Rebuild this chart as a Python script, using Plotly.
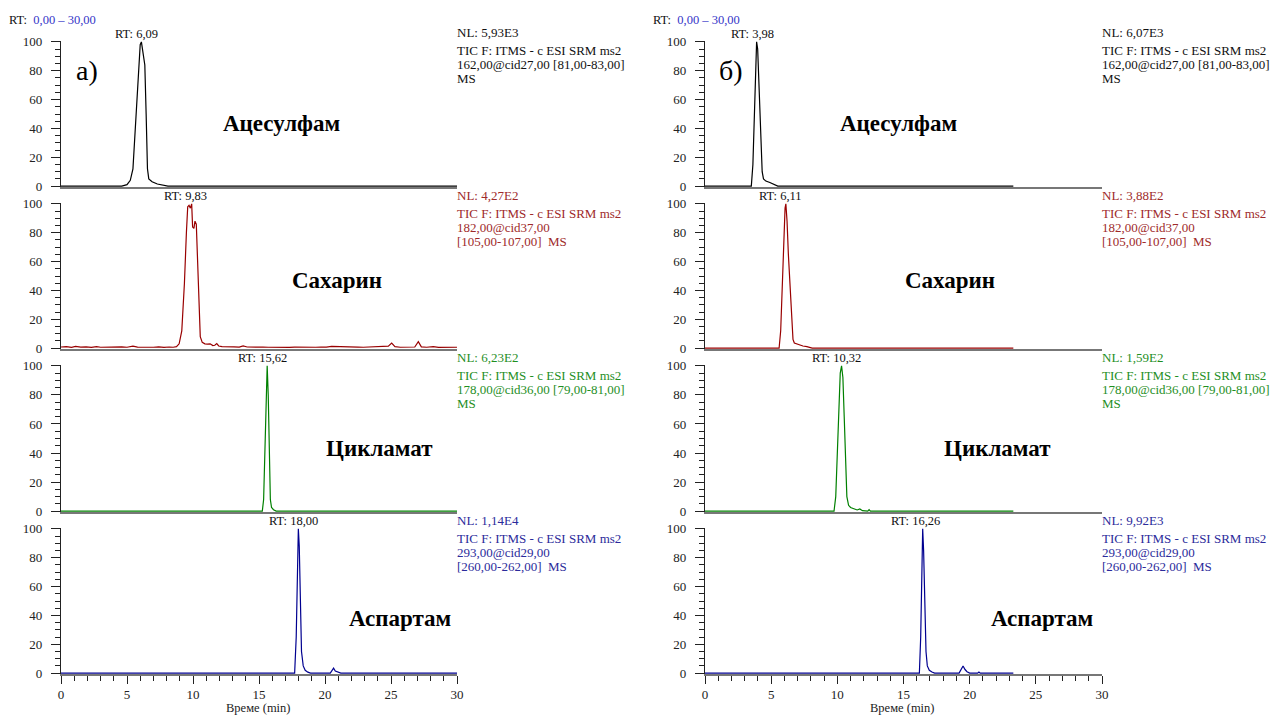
import plotly.graph_objects as go

W, H = 1271, 715
SERIF = "Liberation Serif"

# ---------------- data (time, min / relative abundance, %) ----------------
# Panel a)
t_ace_a = [0, 4.6, 5.0, 5.25, 5.45, 5.6, 5.75, 5.9, 6.0, 6.09, 6.2, 6.35, 6.45, 6.55, 6.65, 6.9, 7.3, 7.8, 8.1, 30]
y_ace_a = [0, 0, 1, 4, 12, 35, 62, 88, 98, 100, 94, 84, 50, 12, 5, 3, 1.5, 0.6, 0, 0]

t_sac_a = [0.0, 0.4, 0.8, 1.1, 1.5, 1.9, 2.3, 2.7, 3.0, 3.4,
           3.8, 4.2, 4.6, 5.0, 5.45, 5.8, 6.2, 6.6, 7.0, 7.4,
           7.8, 8.2, 8.5, 8.75, 8.95, 9.15, 9.35, 9.5, 9.6, 9.7,
           9.8, 9.9, 9.97, 10.07, 10.15, 10.25, 10.35, 10.45, 10.55, 10.7,
           10.9, 11.1, 11.3, 11.5, 11.65, 11.8, 11.95, 12.2, 12.5, 12.8,
           13.1, 13.5, 13.8, 14.1, 14.5, 14.9, 15.3, 15.7, 16.1, 16.5,
           16.9, 17.3, 17.7, 18.1, 18.5, 18.9, 19.3, 19.7, 20.1, 20.5,
           20.9, 21.3, 21.7, 22.1, 22.5, 22.9, 23.3, 23.7, 24.1, 24.5,
           24.8, 25.05, 25.3, 25.7, 26.1, 26.5, 26.8, 27.07, 27.3, 27.7,
           28.2, 28.6, 29.0, 29.5, 30.0]
y_sac_a = [0.8, 1.0, 0.6, 1.2, 0.7, 0.9, 0.5, 1.0, 0.6, 0.8,
           0.5, 0.7, 0.9, 0.6, 1.4, 0.7, 0.5, 0.8, 0.6, 0.9,
           0.5, 0.8, 0.6, 1.0, 3.0, 12, 45, 80, 98, 99,
           97, 100, 84, 83, 88, 86, 55, 22, 8, 4,
           3.0, 2.8, 3.0, 1.8, 2.0, 3.2, 1.5, 1.0, 0.8, 0.6,
           0.9, 0.7, 1.5, 0.8, 0.6, 0.5, 0.7, 0.6, 0.5, 0.8,
           0.6, 0.5, 0.7, 0.6, 0.5, 0.7, 0.6, 0.8, 0.7, 1.2,
           1.0, 0.8, 0.6, 0.9, 0.7, 0.6, 0.8, 0.6, 0.7, 1.0,
           1.4, 3.5, 1.0, 0.6, 0.5, 0.7, 0.8, 4.5, 0.9, 0.6,
           1.0, 0.5, 0.6, 0.5, 0.6]

t_cyc_a = [0, 15.25, 15.35, 15.45, 15.55, 15.62, 15.7, 15.78, 15.86, 15.95, 16.1, 16.3, 30]
y_cyc_a = [0, 0, 8, 45, 92, 100, 80, 35, 8, 2.5, 1, 0, 0]

t_asp_a = [0, 17.7, 17.82, 17.92, 17.98, 18.05, 18.13, 18.22, 18.35, 18.5, 18.7, 18.9,
           20.4, 20.55, 20.65, 20.78, 20.95, 21.2, 30]
y_asp_a = [0, 0, 25, 80, 100, 88, 45, 15, 5, 2, 0.7, 0,
           0, 2, 3.5, 1.5, 1, 0, 0]

# Panel б)
t_ace_b = [0, 3.5, 3.62, 3.72, 3.82, 3.9, 3.98, 4.08, 4.2, 4.32, 4.42, 4.6, 4.9, 5.2, 5.5, 23.3]
y_ace_b = [0, 0, 15, 50, 88, 100, 95, 70, 35, 10, 5, 3.5, 2.5, 1, 0, 0]

t_sac_b = [0, 5.6, 5.72, 5.85, 5.95, 6.05, 6.11, 6.2, 6.3, 6.42, 6.55, 6.65, 6.75, 6.9, 7.1, 7.4, 7.7, 8.1, 23.3]
y_sac_b = [0, 0, 12, 45, 80, 97, 100, 88, 65, 45, 20, 6, 3.5, 3, 2.2, 1.5, 1, 0, 0]

t_cyc_b = [0, 9.75, 9.88, 10.0, 10.12, 10.22, 10.32, 10.42, 10.52, 10.62, 10.72, 10.85, 11.0,
           11.3, 11.5, 11.7, 11.9, 12.3, 12.4, 12.5, 23.3]
y_cyc_b = [0, 0, 10, 40, 75, 95, 100, 92, 65, 30, 10, 4, 2.5,
           1.5, 0.8, 1.5, 0.3, 0, 1, 0, 0]

t_asp_b = [0, 16.2, 16.3, 16.38, 16.45, 16.52, 16.6, 16.7, 16.8, 16.95, 17.15, 17.35,
           19.2, 19.35, 19.5, 19.65, 19.8, 20.0, 20.6, 20.7, 20.8, 23.3]
y_asp_b = [0, 0, 25, 80, 100, 85, 45, 15, 5, 2, 0.8, 0,
           0, 2.5, 5, 2.5, 1, 0, 0, 0.8, 0, 0]

compounds = ["Ацесулфам", "Сахарин", "Цикламат", "Аспартам"]
rt_a = [6.09, 9.83, 15.62, 18.00]
rt_b = [3.98, 6.11, 10.32, 16.26]
rt_a_labels = ["6,09", "9,83", "15,62", "18,00"]
rt_b_labels = ["3,98", "6,11", "10,32", "16,26"]
nl_a = ["5,93E3", "4,27E2", "6,23E2", "1,14E4"]
nl_b = ["6,07E3", "3,88E2", "1,59E2", "9,92E3"]
filter_lines = [
    ["TIC F: ITMS - c ESI SRM ms2", "162,00@cid27,00 [81,00-83,00]", "MS"],
    ["TIC F: ITMS - c ESI SRM ms2", "182,00@cid37,00", "[105,00-107,00]\u00a0 MS"],
    ["TIC F: ITMS - c ESI SRM ms2", "178,00@cid36,00 [79,00-81,00]", "MS"],
    ["TIC F: ITMS - c ESI SRM ms2", "293,00@cid29,00", "[260,00-262,00]\u00a0 MS"],
]
x_ticks = [0, 5, 10, 15, 20, 25, 30]
y_ticks = [0, 20, 40, 60, 80, 100]

for a, b in [(t_ace_a, y_ace_a), (t_sac_a, y_sac_a), (t_cyc_a, y_cyc_a), (t_asp_a, y_asp_a),
             (t_ace_b, y_ace_b), (t_sac_b, y_sac_b), (t_cyc_b, y_cyc_b), (t_asp_b, y_asp_b)]:
    assert len(a) == len(b)

series = [
    [(t_ace_a, y_ace_a), (t_sac_a, y_sac_a), (t_cyc_a, y_cyc_a), (t_asp_a, y_asp_a)],
    [(t_ace_b, y_ace_b), (t_sac_b, y_sac_b), (t_cyc_b, y_cyc_b), (t_asp_b, y_asp_b)],
]
rts = [rt_a, rt_b]
rt_labels = [rt_a_labels, rt_b_labels]
nls = [nl_a, nl_b]

# ---------------- styling / layout ----------------
line_colors = ["#000000", "#990000", "#008000", "#000090"]
text_colors = ["#111111", "#9e2a2a", "#1f8f1f", "#2b2b9b"]
rows_px = [(41, 187), (203, 349), (365, 512), (528, 674)]
cols_px = [(61, 457), (705, 1102)]
name_pos = [[(281, 124), (337, 280), (380, 448), (400, 618)],
            [(898, 123), (950, 280), (998, 448), (1042, 618)]]
panel_tags = ["а)", "б)"]
tag_pos = [(87, 70), (731, 70)]


def fx(p):
    return p / W


def fy(p):
    return 1 - p / H


fig = go.Figure()
layout = dict(width=W, height=H, margin=dict(l=0, r=0, t=0, b=0, autoexpand=False),
              paper_bgcolor="white", plot_bgcolor="white", showlegend=False)
annotations = []
axis_font = dict(family=SERIF, size=13, color="#222222")

for c in range(2):
    for r in range(4):
        idx = c * 4 + r + 1
        xn = "x" if idx == 1 else f"x{idx}"
        yn = "y" if idx == 1 else f"y{idx}"
        xk = "xaxis" if idx == 1 else f"xaxis{idx}"
        yk = "yaxis" if idx == 1 else f"yaxis{idx}"
        tx, ty = series[c][r]
        fig.add_trace(go.Scatter(x=tx, y=ty, mode="lines",
                                 line=dict(color=line_colors[r], width=1.2),
                                 xaxis=xn, yaxis=yn, hoverinfo="skip"))
        x0, x1 = cols_px[c]
        top, bot = rows_px[r]
        xa = dict(domain=[fx(x0), fx(x1)], anchor=yn, range=[0, 30], automargin=False,
                  showline=True, linecolor="#777777", linewidth=1.5,
                  layer="below traces", showgrid=False, zeroline=False,
                  fixedrange=True)
        if r == 3:
            xa.update(ticks="outside", tickmode="array", tickvals=x_ticks,
                      ticktext=[str(v) for v in x_ticks],
                      ticklen=8, tickwidth=1.2, tickcolor="#222222",
                      minor=dict(ticks="outside", dtick=1, tick0=0, ticklen=5,
                                 tickwidth=1, tickcolor="#222222", showgrid=False),
                      tickfont=axis_font)
        else:
            xa.update(ticks="", showticklabels=False)
        ya = dict(domain=[fy(bot), fy(top)], anchor=xn, range=[-0.6, 100.6], automargin=False,
                  showline=True, linecolor="#222222", linewidth=1.3,
                  ticks="outside", tickmode="linear", tick0=0, dtick=20,
                  ticklen=9, tickwidth=1.2, tickcolor="#222222",
                  minor=dict(ticks="outside", dtick=5, tick0=0, ticklen=5,
                             tickwidth=1, tickcolor="#222222", showgrid=False),
                  tickfont=axis_font, ticklabelstandoff=6,
                  showgrid=False, zeroline=False, fixedrange=True)
        layout[xk] = xa
        layout[yk] = ya

        # RT label above peak
        annotations.append(dict(xref=xn, yref=yn, x=rts[c][r], y=100,
                                xanchor="center", yanchor="bottom", xshift=-5, yshift=-1,
                                text="RT: " + rt_labels[c][r], showarrow=False,
                                font=dict(family=SERIF, size=12.5, color="#111111")))
        # NL / filter block
        block = ["NL: " + nls[c][r]] + filter_lines[r]
        offsets = [8, -10, -24, -38]
        for line_txt, off in zip(block, offsets):
            annotations.append(dict(xref=f"{xn} domain", yref=f"{yn} domain",
                                    x=1.0, y=1.0, xanchor="left", yanchor="middle",
                                    xshift=-2, yshift=off, text=line_txt, showarrow=False,
                                    font=dict(family=SERIF, size=13, color=text_colors[r])))
        # compound name
        nx, ny = name_pos[c][r]
        annotations.append(dict(xref="paper", yref="paper", x=fx(nx), y=fy(ny),
                                xanchor="center", yanchor="middle",
                                text="<b>" + compounds[r] + "</b>", showarrow=False,
                                font=dict(family=SERIF, size=23, color="#000000")))

    # panel tag, RT range, x-axis title
    tx_, ty_ = tag_pos[c]
    annotations.append(dict(xref="paper", yref="paper", x=fx(tx_), y=fy(ty_),
                            xanchor="center", yanchor="middle", text=panel_tags[c],
                            showarrow=False, font=dict(family=SERIF, size=28, color="#000000")))
    x0, x1 = cols_px[c]
    annotations.append(dict(xref="paper", yref="paper", x=fx(x0 - 54), y=fy(20),
                            xanchor="left", yanchor="middle",
                            text="RT:  <span style='color:#3535c8'>0,00 – 30,00</span>",
                            showarrow=False, font=dict(family=SERIF, size=12.5, color="#111111")))
    annotations.append(dict(xref="paper", yref="paper", x=fx((x0 + x1) / 2 - 1), y=fy(708),
                            xanchor="center", yanchor="middle", text="Време (min)",
                            showarrow=False, font=dict(family=SERIF, size=12.5, color="#222222")))

layout["annotations"] = annotations
fig.update_layout(**layout)
fig.write_html("out.html",
               config={"displayModeBar": False},
               post_script="document.body.style.margin='0';document.body.style.padding='0';"
                           "document.body.style.overflow='hidden';")
